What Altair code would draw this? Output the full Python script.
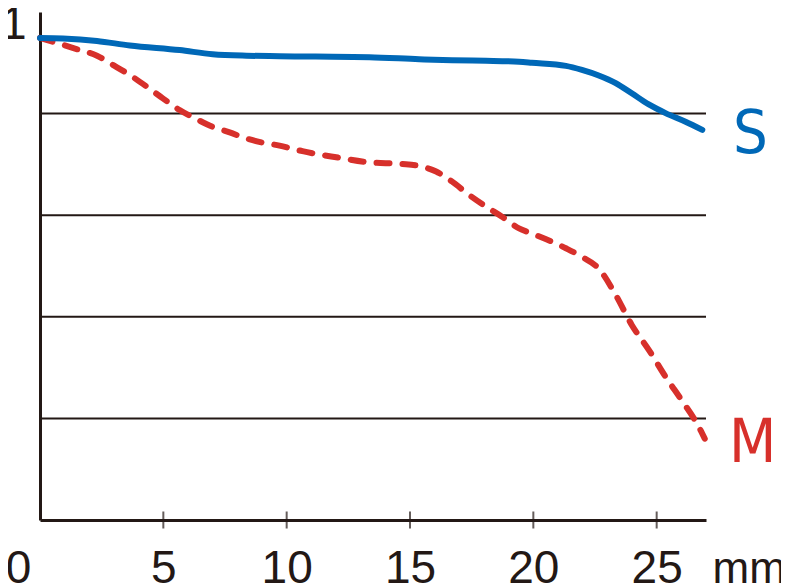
import altair as alt
import pandas as pd

# Sagittal (S) curve
s_x = [0, 0.93, 2.31, 3.64, 5.66, 7.0, 8.37, 9.71, 13.35, 15.37, 16.7, 18.08, 19.42,
       19.94, 21.32, 21.97, 22.65, 23.34, 23.99, 24.68, 25.36, 26.17, 26.85]
s_y = [0.949, 0.948, 0.943, 0.934, 0.925, 0.917, 0.914, 0.913, 0.911, 0.907, 0.905, 0.904,
       0.902, 0.900, 0.894, 0.886, 0.875, 0.860, 0.840, 0.818, 0.801, 0.784, 0.768]

# Meridional (M) curve
m_x = [0, 0.61, 1.62, 2.31, 2.95, 3.64, 4.33, 4.98, 5.66, 6.35, 7.0, 7.69, 8.37, 9.02,
       9.71, 10.64, 12.01, 13.35, 14.68, 15.37, 16.06, 16.71, 17.39, 18.08, 18.73, 19.42,
       19.94, 21.32, 21.97, 22.65, 23.34, 23.99, 24.68, 25.36, 26.01, 26.7, 26.95]
m_y = [0.949, 0.940, 0.925, 0.914, 0.896, 0.876, 0.853, 0.830, 0.807, 0.789, 0.774, 0.763,
       0.751, 0.743, 0.737, 0.726, 0.714, 0.704, 0.701, 0.697, 0.686, 0.666, 0.640, 0.617,
       0.597, 0.574, 0.564, 0.535, 0.518, 0.495, 0.443, 0.384, 0.335, 0.282, 0.236, 0.184,
       0.160]

grid_values = [0.2, 0.4, 0.6, 0.8]
x_ticks = [5, 10, 15, 20, 25]
x_labels = [0, 5, 10, 15, 20, 25]
y_labels = [1]

BLUE = "#0068b7"
RED = "#d7302b"
INK = "#231815"

s_df = pd.DataFrame({"x": s_x, "y": s_y})
m_df = pd.DataFrame({"x": m_x, "y": m_y})
grid_df = pd.DataFrame({"y": grid_values})
tick_df = pd.DataFrame({"x": x_ticks, "y": [0] * len(x_ticks)})
lab_df = pd.DataFrame({
    "x": [s_x[-1], m_x[-1]],
    "y": [s_y[-1], m_y[-1]],
    "name": ["S", "M"],
})

xscale = alt.Scale(domain=[0, 27], nice=False, zero=False)
yscale = alt.Scale(domain=[0, 1], nice=False, zero=False)

x_axis = alt.Axis(
    values=x_labels, format="d", grid=False, ticks=False, tickSize=0,
    domainColor=INK, domainWidth=3,
    labelFont="Liberation Sans", labelFontSize=46, labelColor=INK,
    labelBaseline="alphabetic", labelPadding=62,
    labelOffset={"condition": {"test": "datum.value == 0", "value": -22}, "value": 0},
    labelFlush=False, labelOverlap=False,
    title="mm", titleFont="Liberation Sans", titleFontSize=44, titleFontWeight="normal",
    titleColor=INK, titleAlign="left", titleBaseline="alphabetic",
    titleX=672, titleY=62, titleAnchor="start",
)
y_axis = alt.Axis(
    values=y_labels, format="d", grid=False, ticks=False, tickSize=0,
    domainColor=INK, domainWidth=3,
    labelFont="Liberation Sans", labelFontSize=46, labelColor=INK,
    labelBaseline="alphabetic",
    labelPadding=14, labelOffset=26, labelFlush=False, title=None,
)

grid = alt.Chart(grid_df).mark_rule(color=INK, strokeWidth=2).encode(
    y=alt.Y("y:Q", scale=yscale, axis=y_axis)
)

ticks = alt.Chart(tick_df).mark_tick(
    orient="vertical", color=INK, thickness=2, size=17
).encode(
    x=alt.X("x:Q", scale=xscale, axis=x_axis),
    y=alt.Y("y:Q", scale=yscale),
)

m_line = alt.Chart(m_df).mark_line(
    color=RED, strokeWidth=6, strokeDash=[13, 13], strokeCap="round",
    interpolate="monotone"
).encode(x=alt.X("x:Q", scale=xscale), y=alt.Y("y:Q", scale=yscale))

s_line = alt.Chart(s_df).mark_line(
    color=BLUE, strokeWidth=6, strokeCap="round", interpolate="monotone"
).encode(x=alt.X("x:Q", scale=xscale), y=alt.Y("y:Q", scale=yscale))

labels = alt.Chart(lab_df).mark_text(
    font="DejaVu Sans Condensed, Liberation Sans, sans-serif", fontSize=61,
    align="center", baseline="middle", dx=48, dy=5
).encode(
    x=alt.X("x:Q", scale=xscale),
    y=alt.Y("y:Q", scale=yscale),
    text="name:N",
    color=alt.Color("name:N", scale=alt.Scale(domain=["S", "M"], range=[BLUE, RED]),
                    legend=None),
)

chart = alt.layer(grid, ticks, m_line, s_line, labels).properties(
    width=666, height=508,
    background="white",
    autosize=alt.AutoSizeParams(type="none"),
    padding={"left": 32, "top": 4, "right": 75, "bottom": 65},
).configure_view(strokeWidth=0, stroke=None)

chart.save("out.html", embed_options={"renderer": "svg", "actions": False})
